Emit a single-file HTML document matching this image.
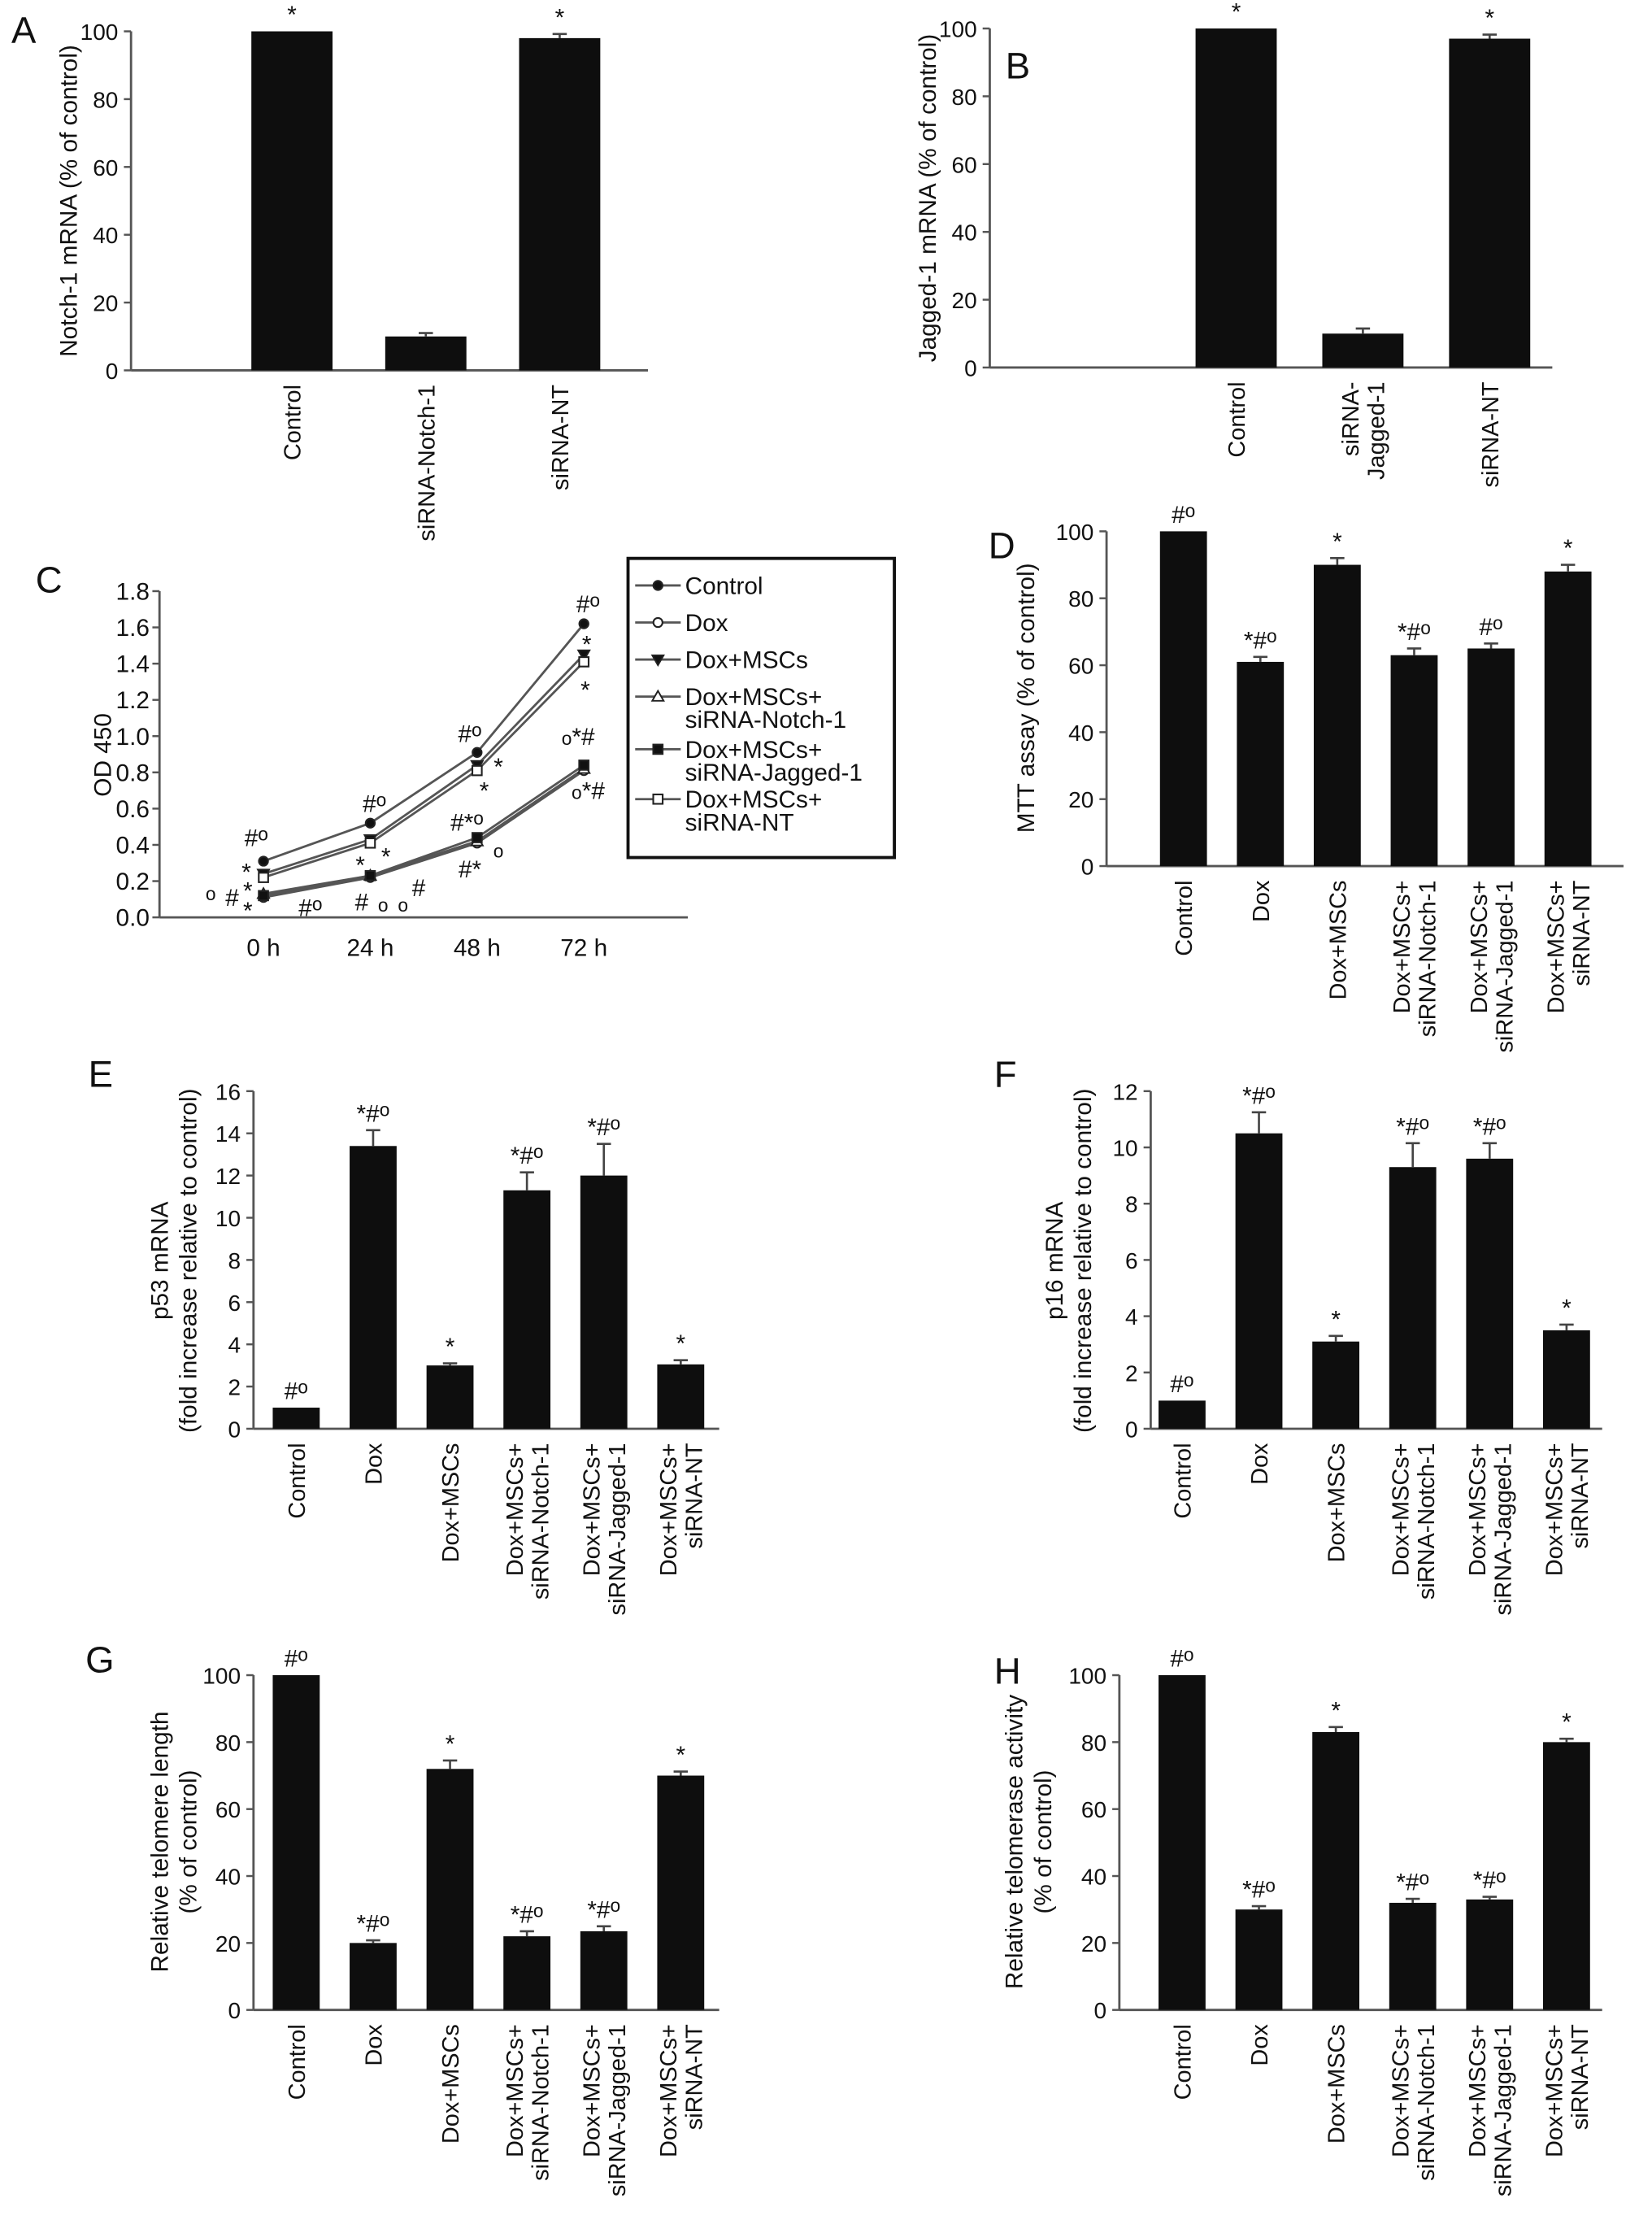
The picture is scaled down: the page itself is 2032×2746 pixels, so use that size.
<!DOCTYPE html>
<html><head><meta charset="utf-8"><title>Figure panels A–H</title>
<style>
html,body{margin:0;padding:0;background:#fff;}
svg{display:block;font-family:"Liberation Sans",Arial,sans-serif;}
</style></head>
<body>
<svg id="fig" xmlns="http://www.w3.org/2000/svg" width="2032" height="2746" viewBox="0 0 1160 1567.6">
<rect width="1160" height="1567.6" fill="#fff"/>
</svg>
<script>
// ---------- Panel A data ----------
const aCats = [["Control"],["siRNA-Notch-1"],["siRNA-NT"]];
const aVals = [100, 10, 98];
const aErrs = [0, 1, 1.2];
const aNotes = ["*", "", "*"];
const aTicks = [0,20,40,60,80,100];
// ---------- Panel B data ----------
const bCats = [["Control"],["siRNA-","Jagged-1"],["siRNA-NT"]];
const bVals = [100, 10, 97];
const bErrs = [0, 1.5, 1.2];
const bNotes = ["*", "", "*"];
const bTicks = [0,20,40,60,80,100];
// ---------- Shared 6-group categories ----------
const sixCats = [["Control"],["Dox"],["Dox+MSCs"],["Dox+MSCs+","siRNA-Notch-1"],["Dox+MSCs+","siRNA-Jagged-1"],["Dox+MSCs+","siRNA-NT"]];
// ---------- Panel C data ----------
const cTimes = ["0 h","24 h","48 h","72 h"];
const cSeriesNames = ["Control","Dox","Dox+MSCs","Dox+MSCs+|siRNA-Notch-1","Dox+MSCs+|siRNA-Jagged-1","Dox+MSCs+|siRNA-NT"];
const cControl = [0.31, 0.52, 0.91, 1.62];
const cDox = [0.11, 0.22, 0.41, 0.81];
const cMSCs = [0.24, 0.43, 0.84, 1.45];
const cNotch = [0.13, 0.23, 0.42, 0.82];
const cJagged = [0.12, 0.23, 0.44, 0.84];
const cNT = [0.22, 0.41, 0.81, 1.41];
const cTicks = [0,0.2,0.4,0.6,0.8,1.0,1.2,1.4,1.6,1.8];
// ---------- Panel D data ----------
const dVals = [100, 61, 90, 63, 65, 88];
const dErrs = [0, 1.5, 2, 2, 1.5, 2];
const dNotes = ["#o","*#o","*","*#o","#o","*"];
const dTicks = [0,20,40,60,80,100];
// ---------- Panel E data ----------
const eVals = [1, 13.4, 3, 11.3, 12, 3.05];
const eErrs = [0, 0.75, 0.1, 0.85, 1.5, 0.2];
const eNotes = ["#o","*#o","*","*#o","*#o","*"];
const eTicks = [0,2,4,6,8,10,12,14,16];
// ---------- Panel F data ----------
const fVals = [1, 10.5, 3.1, 9.3, 9.6, 3.5];
const fErrs = [0, 0.75, 0.2, 0.85, 0.55, 0.2];
const fNotes = ["#o","*#o","*","*#o","*#o","*"];
const fTicks = [0,2,4,6,8,10,12];
// ---------- Panel G data ----------
const gVals = [100, 20, 72, 22, 23.5, 70];
const gErrs = [0, 0.8, 2.5, 1.5, 1.5, 1.2];
const gNotes = ["#o","*#o","*","*#o","*#o","*"];
const gTicks = [0,20,40,60,80,100];
// ---------- Panel H data ----------
const hVals = [100, 30, 83, 32, 33, 80];
const hErrs = [0, 1, 1.5, 1.2, 0.8, 1];
const hNotes = ["#o","*#o","*","*#o","*#o","*"];
const hTicks = [0,20,40,60,80,100];

const NS = "http://www.w3.org/2000/svg";
const svg = document.getElementById("fig");
function mk(tag, attrs, parent){
  const e = document.createElementNS(NS, tag);
  for (const k in attrs) e.setAttribute(k, attrs[k]);
  (parent||svg).appendChild(e);
  return e;
}
function txt(s, attrs, parent){ const t = mk("text", attrs, parent); t.textContent = s; return t; }
function noteText(s, x, y, parent){
  const t = mk("text", {x:x, y:y, "text-anchor":"middle", "font-size":17, fill:"#111"}, parent);
  
  
  for (const ch of s){
    const sp = mk("tspan", {}, t);
    if (ch === "o"){ sp.setAttribute("font-size", 13); sp.setAttribute("dy", -4); sp.textContent = "o"; }
    else { sp.textContent = ch; }
  }
  return t;
}

function barChart(cfg){
  const g = mk("g", {});
  
  
  const ymax = cfg.ticks[cfg.ticks.length-1];
  const yS = v => cfg.y0 - (v/ymax)*(cfg.y0 - cfg.yTop);
  const L = txt(cfg.letter, {x:cfg.lx, y:cfg.ly, "font-size":26, fill:"#111"}, g);
  
  
  const ya = mk("line", {x1:cfg.ax, y1:cfg.y0, x2:cfg.ax, y2:yS(ymax), stroke:"#555", "stroke-width":1.6}, g);
  
  
  const xa = mk("line", {x1:cfg.ax, y1:cfg.y0, x2:cfg.xEnd, y2:cfg.y0, stroke:"#555", "stroke-width":1.6}, g);
  
  
  cfg.ticks.forEach(t => {
    mk("line", {x1:cfg.ax-5, y1:yS(t), x2:cfg.ax, y2:yS(t), stroke:"#555", "stroke-width":1.4}, g);
    const tl = txt(String(t), {x:cfg.ax-9, y:yS(t)+6, "text-anchor":"end", "font-size":16, fill:"#111"}, g);
    
    
  });
  const tg = mk("g", {transform:`translate(${cfg.tx},${cfg.ty}) rotate(-90)`}, g);
  cfg.title.forEach((line, i) => {
    const yt = txt(line, {x:0, y:i*20, "text-anchor":"middle", "font-size":17, fill:"#111"}, tg);
    
    
  });
  cfg.vals.forEach((v, i) => {
    const cx = cfg.cx0 + i*cfg.step;
    const top = yS(v);
    const b = mk("rect", {x:cx-cfg.bw/2, y:top, width:cfg.bw, height:cfg.y0-top, fill:"#0e0e0e"}, g);
    
    
    let et = top;
    if (cfg.errs[i] > 0){
      et = yS(v + cfg.errs[i]);
      mk("line", {x1:cx, y1:top, x2:cx, y2:et, stroke:"#444", "stroke-width":1.5}, g);
      mk("line", {x1:cx-5, y1:et, x2:cx+5, y2:et, stroke:"#444", "stroke-width":1.5}, g);
    }
    if (cfg.notes[i]) noteText(cfg.notes[i], cx, et - 6, g);
    const lines = cfg.cats[i];
    const n = lines.length;
    lines.forEach((ln, j) => {
      const lx = cx + 6 + (j - (n-1)/2) * 18;
      const ly = cfg.y0 + 10;
      const ct = txt(ln, {x:lx, y:ly, "text-anchor":"end", "font-size":16.5, fill:"#111", transform:`rotate(-90 ${lx} ${ly})`}, g);
      
      
    });
  });
}

barChart({name:"panel-a-notch1-mrna", letter:"A", lx:8, ly:30, ax:92, y0:260, yTop:22, xEnd:455, ticks:aTicks, title:["Notch-1 mRNA (% of control)"], tx:54, ty:141, cx0:205, step:94, bw:57, vals:aVals, errs:aErrs, notes:aNotes, cats:aCats});
barChart({name:"panel-b-jagged1-mrna", letter:"B", lx:706, ly:55, ax:695, y0:258, yTop:20, xEnd:1090, ticks:bTicks, title:["Jagged-1 mRNA (% of control)"], tx:657, ty:139, cx0:868, step:89, bw:57, vals:bVals, errs:bErrs, notes:bNotes, cats:bCats});
barChart({name:"panel-d-mtt", letter:"D", lx:694, ly:392, ax:777, y0:608, yTop:373, xEnd:1140, ticks:dTicks, title:["MTT assay (% of control)"], tx:726, ty:490, cx0:831, step:54, bw:33, vals:dVals, errs:dErrs, notes:dNotes, cats:sixCats});
barChart({name:"panel-e-p53", letter:"E", lx:62, ly:763, ax:178, y0:1003, yTop:766, xEnd:505, ticks:eTicks, title:["p53 mRNA","(fold increase relative to control)"], tx:118, ty:885, cx0:208, step:54, bw:33, vals:eVals, errs:eErrs, notes:eNotes, cats:sixCats});
barChart({name:"panel-f-p16", letter:"F", lx:698, ly:763, ax:808, y0:1003, yTop:766, xEnd:1125, ticks:fTicks, title:["p16 mRNA","(fold increase relative to control)"], tx:746, ty:885, cx0:830, step:54, bw:33, vals:fVals, errs:fErrs, notes:fNotes, cats:sixCats});
barChart({name:"panel-g-telomere-length", letter:"G", lx:60, ly:1174, ax:178, y0:1411, yTop:1176, xEnd:505, ticks:gTicks, title:["Relative telomere length","(% of control)"], tx:118, ty:1293, cx0:208, step:54, bw:33, vals:gVals, errs:gErrs, notes:gNotes, cats:sixCats});
barChart({name:"panel-h-telomerase", letter:"H", lx:698, ly:1182, ax:786, y0:1411, yTop:1176, xEnd:1125, ticks:hTicks, title:["Relative telomerase activity","(% of control)"], tx:718, ty:1293, cx0:830, step:54, bw:33, vals:hVals, errs:hErrs, notes:hNotes, cats:sixCats});

// ---------- Panel C line chart ----------
(function(){
  const g = mk("g", {});
  
  
  const ax = 112, y0 = 644, yTop = 415, xEnd = 483;
  const ymax = cTicks[cTicks.length-1];
  const yS = v => y0 - (v/ymax)*(y0 - yTop);
  const xS = i => 185 + i*75;
  const L = txt("C", {x:25, y:416, "font-size":26, fill:"#111"}, g);
  
  
  const ya = mk("line", {x1:ax, y1:y0, x2:ax, y2:yTop, stroke:"#555", "stroke-width":1.6}, g);
  
  
  const xa = mk("line", {x1:ax, y1:y0, x2:xEnd, y2:y0, stroke:"#555", "stroke-width":1.6}, g);
  
  
  cTicks.forEach(t => {
    mk("line", {x1:ax-5, y1:yS(t), x2:ax, y2:yS(t), stroke:"#555", "stroke-width":1.4}, g);
    const tl = txt(t.toFixed(1), {x:ax-7, y:yS(t)+6, "text-anchor":"end", "font-size":17, fill:"#111"}, g);
    
    
  });
  cTimes.forEach((s, i) => {
    const tl = txt(s, {x:xS(i), y:y0+27, "text-anchor":"middle", "font-size":17, fill:"#111"}, g);
    
    
  });
  const yt = txt("OD 450", {x:0, y:0, "text-anchor":"middle", "font-size":17, fill:"#111", transform:"translate(78,530) rotate(-90)"}, g);
  
  

  const series = [cControl, cDox, cMSCs, cNotch, cJagged, cNT];
  const markers = ["circle-f","circle-o","tri-down-f","tri-up-o","square-f","square-o"];
  function marker(type, x, y, parent){
    let m;
    const filled = type.endsWith("-f");
    const fill = filled ? "#111" : "#fff";
    if (type.startsWith("circle")) m = mk("circle", {cx:x, cy:y, r:3.2, fill:fill, stroke:"#222", "stroke-width":1.2}, parent);
    else if (type.startsWith("square")) m = mk("rect", {x:x-3.3, y:y-3.3, width:6.6, height:6.6, fill:fill, stroke:"#222", "stroke-width":1.2}, parent);
    else if (type.startsWith("tri-down")) m = mk("polygon", {points:`${x-4},${y-3} ${x+4},${y-3} ${x},${y+4}`, fill:fill, stroke:"#222", "stroke-width":1.1}, parent);
    else m = mk("polygon", {points:`${x-4},${y+3} ${x+4},${y+3} ${x},${y-4}`, fill:fill, stroke:"#222", "stroke-width":1.1}, parent);
    return m;
  }
  series.forEach((vals, si) => {
    const pts = vals.map((v, i) => `${xS(i)},${yS(v)}`).join(" ");
    const pl = mk("polyline", {points:pts, fill:"none", stroke:"#555", "stroke-width":1.6}, g);
    
    
    vals.forEach((v, i) => {
      const m = marker(markers[si], xS(i), yS(v), g);
      
      
    });
  });
  const ann = [
    ["#o",180,594],["*",173,618],["o",148,636],["#",163,636],["*",174,631],["*",174,645],["#o",218,643],
    ["#o",263,570],["*",253,613],["*",271,607],["#",254,639],["o",269,644],["o",283,644],["#",294,629],
    ["#o",330,521],["*",350,544],["*",340,561],["#*o",328,583],["#*",330,616],["o",350,606],
    ["#o",413,430],["*",412,458],["*",411,490],["o*#",406,527],["o*#",413,565]
  ];
  ann.forEach(a => noteText(a[0], a[1], a[2], g));
  const lg = mk("g", {}, g);
  
  
  mk("rect", {x:441, y:392, width:187, height:210, fill:"#fff", stroke:"#111", "stroke-width":2.2}, lg);
  const ly = [411, 437, 463, 489, 526, 561];
  cSeriesNames.forEach((nm, si) => {
    const e = mk("g", {}, lg);
    
    
    mk("line", {x1:446, y1:ly[si], x2:478, y2:ly[si], stroke:"#555", "stroke-width":1.6}, e);
    marker(markers[si], 462, ly[si], e);
    nm.split("|").forEach((part, j) => {
      txt(part, {x:481, y:ly[si] + 6 + j*16, "font-size":17, fill:"#111"}, e);
    });
  });
})();
</script>
</body></html>
